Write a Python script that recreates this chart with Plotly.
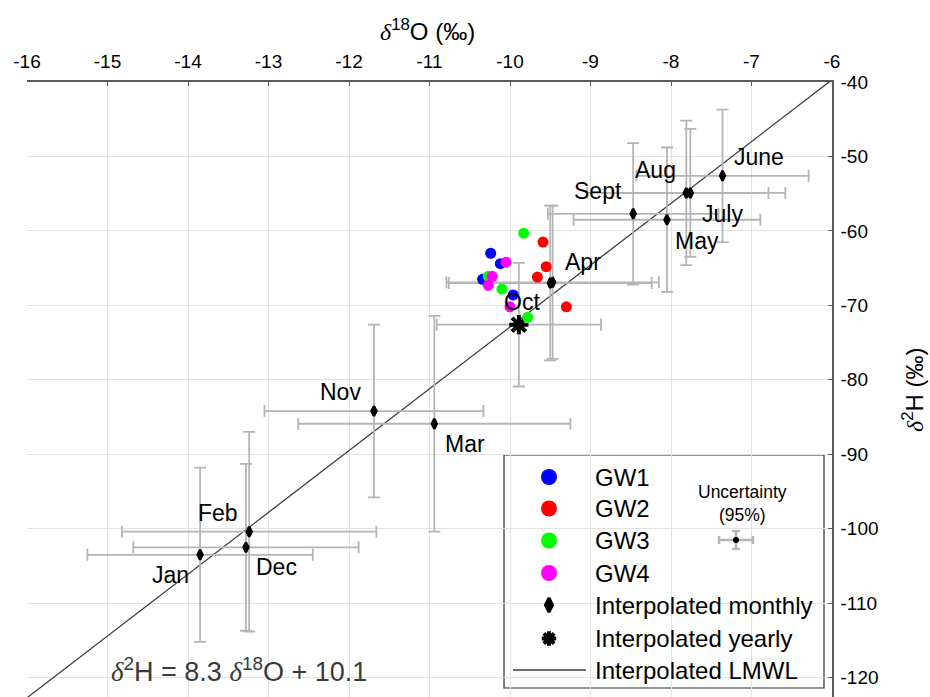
import plotly.graph_objects as go

# ---------------- data ----------------
months = ["Jan", "Feb", "Mar", "Apr", "May", "June", "July", "Aug", "Sept", "Oct", "Nov", "Dec"]
month_d18O = [-13.85, -13.24, -10.94, -9.47, -8.05, -7.36, -7.76, -7.81, -8.47, -9.50, -11.69, -13.28]
month_d2H = [-103.5, -100.4, -85.9, -66.9, -58.5, -52.6, -54.9, -54.9, -57.7, -67.0, -84.2, -102.5]
month_d18O_err = [1.40, 1.58, 1.69, 1.32, 1.16, 1.07, 0.97, 1.23, 1.06, 1.26, 1.36, 1.40]
month_d2H_err = [11.7, 13.4, 14.5, 10.3, 9.7, 8.9, 8.6, 9.7, 9.5, 10.4, 11.6, 11.2]

year_d18O = [-9.89]
year_d2H = [-72.6]
year_d18O_err = [1.02]
year_d2H_err = [8.3]

gw1_d18O = [-10.24, -10.12, -10.34, -9.96]
gw1_d2H = [-63.0, -64.4, -66.5, -68.6]
gw2_d18O = [-9.59, -9.55, -9.66, -9.30]
gw2_d2H = [-61.5, -64.8, -66.2, -70.2]
gw3_d18O = [-9.83, -10.27, -10.10, -9.78]
gw3_d2H = [-60.3, -66.1, -67.8, -71.6]
gw4_d18O = [-10.05, -10.22, -10.27, -10.00]
gw4_d2H = [-64.2, -66.1, -67.3, -70.2]

lmwl_slope = 8.3
lmwl_intercept = 10.1

sample_unc_d18O = 0.21   # 95% uncertainty of GW samples
sample_unc_d2H = 1.2

x_tick_vals = [-16, -15, -14, -13, -12, -11, -10, -9, -8, -7, -6]
x_tick_text = ["-16", "-15", "-14", "-13", "-12", "-11", "-10", "-9", "-8", "-7", "-6"]
y_tick_vals = [-120, -110, -100, -90, -80, -70, -60, -50, -40]
y_tick_text = ["-120", "-110", "-100", "-90", "-80", "-70", "-60", "-50", "-40"]

# ---------------- layout helpers ----------------
W, H = 930, 697
L, R, T, B = 27, 98, 82, 0
X_RANGE = [-16, -6]
Y_RANGE = [-122.6, -40]
FONT = "Liberation Sans, Arial, sans-serif"
ERR_COLOR = "#b5b5b5"
AX_COLOR = "#5a5a5a"


def paper_x(px):
    return (px - L) / (W - L - R)


def paper_y(py):
    return (H - B - py) / (H - T - B)


def data_x(px):
    return X_RANGE[0] + paper_x(px) * (X_RANGE[1] - X_RANGE[0])


def data_y(py):
    return Y_RANGE[0] + paper_y(py) * (Y_RANGE[1] - Y_RANGE[0])


# label offsets (px) for month names
label_shift = {
    "Jan": (-30, -20), "Feb": (-31, 19), "Mar": (31, -20), "Apr": (30, 20),
    "May": (30, -21), "June": (36, 19), "July": (32, -21), "Aug": (-31, 23),
    "Sept": (-35, 23), "Oct": (-28, -19), "Nov": (-33, 19), "Dec": (31, -20),
}

fig = go.Figure()

# LMWL
lx = [X_RANGE[0] - 0.5, X_RANGE[1] + 0.5]
ly = [lmwl_slope * v + lmwl_intercept for v in lx]
fig.add_trace(go.Scatter(x=lx, y=ly, mode="lines",
                         line=dict(color="#3c3c3c", width=1.3), hoverinfo="skip"))

# monthly
fig.add_trace(go.Scatter(
    x=month_d18O, y=month_d2H, mode="markers", text=months,
    marker=dict(symbol="diamond-tall", size=7, color="black", line=dict(color="black", width=2.5)),
    error_x=dict(type="data", array=month_d18O_err, color=ERR_COLOR, thickness=1.8, width=6),
    error_y=dict(type="data", array=month_d2H_err, color=ERR_COLOR, thickness=1.8, width=6),
))

# yearly
fig.add_trace(go.Scatter(
    x=year_d18O, y=year_d2H, mode="markers",
    marker=dict(symbol="asterisk-open", size=16, color="black", line=dict(color="black", width=4)),
    error_x=dict(type="data", array=year_d18O_err, color=ERR_COLOR, thickness=1.8, width=6),
    error_y=dict(type="data", array=year_d2H_err, color=ERR_COLOR, thickness=1.8, width=6),
))

gw_sets = [
    ("GW1", gw1_d18O, gw1_d2H, "#0000ff"),
    ("GW2", gw2_d18O, gw2_d2H, "#ff0000"),
    ("GW3", gw3_d18O, gw3_d2H, "#00ff00"),
    ("GW4", gw4_d18O, gw4_d2H, "#ff00ff"),
]
for name, xs, ys, col in gw_sets:
    fig.add_trace(go.Scatter(x=xs, y=ys, mode="markers", name=name,
                             marker=dict(symbol="circle", size=11, color=col)))

annotations = []
for m, xv, yv in zip(months, month_d18O, month_d2H):
    dx, dy = label_shift[m]
    annotations.append(dict(x=xv, y=yv, xref="x", yref="y", text=m, showarrow=False,
                            xshift=dx, yshift=dy, font=dict(family=FONT, size=23, color="black")))

# ---------------- custom legend ----------------
box = dict(x0=504, x1=824, y0=455, y1=688)
rows = [477, 508.5, 540.5, 573, 605, 638.5, 670]
sym_x = 549
txt_x = 593
shapes = [dict(type="rect", xref="paper", yref="paper",
               x0=paper_x(box["x0"]), x1=paper_x(box["x1"]),
               y0=paper_y(box["y1"]), y1=paper_y(box["y0"]),
               line=dict(color="#2b2b2b", width=1.2), fillcolor="white", layer="between")]

for (name, _, _, col), ry in zip(gw_sets, rows[:4]):
    fig.add_trace(go.Scatter(x=[data_x(sym_x)], y=[data_y(ry)], mode="markers",
                             marker=dict(symbol="circle", size=16, color=col), hoverinfo="skip"))
fig.add_trace(go.Scatter(x=[data_x(sym_x)], y=[data_y(rows[4])], mode="markers",
                         marker=dict(symbol="diamond-tall", size=10, color="black",
                                     line=dict(color="black", width=3)), hoverinfo="skip"))
fig.add_trace(go.Scatter(x=[data_x(sym_x)], y=[data_y(rows[5])], mode="markers",
                         marker=dict(symbol="asterisk-open", size=12, color="black",
                                     line=dict(color="black", width=4)), hoverinfo="skip"))
fig.add_trace(go.Scatter(x=[data_x(513), data_x(586)], y=[data_y(rows[6])] * 2, mode="lines",
                         line=dict(color="#3c3c3c", width=1.3), hoverinfo="skip"))
# uncertainty sample
fig.add_trace(go.Scatter(
    x=[data_x(736)], y=[data_y(540)], mode="markers",
    marker=dict(symbol="circle", size=6, color="black"),
    error_x=dict(type="data", array=[sample_unc_d18O], color=ERR_COLOR, thickness=2.5, width=4),
    error_y=dict(type="data", array=[sample_unc_d2H], color=ERR_COLOR, thickness=2.5, width=4),
    hoverinfo="skip"))

legend_labels = ["GW1", "GW2", "GW3", "GW4", "Interpolated monthly", "Interpolated yearly",
                 "Interpolated LMWL"]
for lab, ry in zip(legend_labels, rows):
    annotations.append(dict(x=paper_x(txt_x), y=paper_y(ry), xref="paper", yref="paper",
                            text=lab, showarrow=False, xanchor="left", yanchor="middle",
                            font=dict(family=FONT, size=24, color="black")))
annotations.append(dict(x=paper_x(742), y=paper_y(503.5), xref="paper", yref="paper",
                        text="Uncertainty<br>(95%)", showarrow=False, xanchor="center",
                        yanchor="middle", font=dict(family=FONT, size=17.5, color="black")))

DELTA = "<span style=\"font-family:'Liberation Serif'\"><i>δ</i></span>"
annotations.append(dict(x=paper_x(239), y=paper_y(670), xref="paper", yref="paper",
                        text=f"{DELTA}<sup>2</sup>H = {lmwl_slope} {DELTA}<sup>18</sup>O + {lmwl_intercept}",
                        showarrow=False, xanchor="center", yanchor="middle",
                        font=dict(family=FONT, size=27, color="#3a3a3a")))
annotations.append(dict(x=paper_x(427), y=paper_y(30), xref="paper", yref="paper",
                        text=f"{DELTA}<sup>18</sup>O (‰)", showarrow=False,
                        xanchor="center", yanchor="middle",
                        font=dict(family=FONT, size=24, color="black")))
annotations.append(dict(x=paper_x(913), y=paper_y(390), xref="paper", yref="paper",
                        text=f"{DELTA}<sup>2</sup>H (‰)", showarrow=False, textangle=-90,
                        xanchor="center", yanchor="middle",
                        font=dict(family=FONT, size=24, color="black")))

fig.update_layout(
    width=W, height=H, margin=dict(l=L, r=R, t=T, b=B, pad=0),
    paper_bgcolor="white", plot_bgcolor="white", showlegend=False,
    font=dict(family=FONT, size=19, color="black"),
    xaxis=dict(range=X_RANGE, side="top", tickvals=x_tick_vals, ticktext=x_tick_text,
               showgrid=True, gridcolor="#e2e2e2", gridwidth=1, zeroline=False,
               showline=True, linecolor=AX_COLOR, linewidth=1.5,
               ticks="inside", ticklen=4, tickcolor=AX_COLOR, tickwidth=1.2,
               tickfont=dict(family=FONT, size=19, color="black"), ticklabelstandoff=5),
    yaxis=dict(range=Y_RANGE, side="right", tickvals=y_tick_vals, ticktext=y_tick_text,
               showgrid=True, gridcolor="#e2e2e2", gridwidth=1, zeroline=False,
               showline=True, linecolor=AX_COLOR, linewidth=1.5,
               ticks="inside", ticklen=4, tickcolor=AX_COLOR, tickwidth=1.2,
               tickfont=dict(family=FONT, size=19, color="black"), ticklabelstandoff=3),
    annotations=annotations, shapes=shapes,
)

fig.write_html("out.html")
